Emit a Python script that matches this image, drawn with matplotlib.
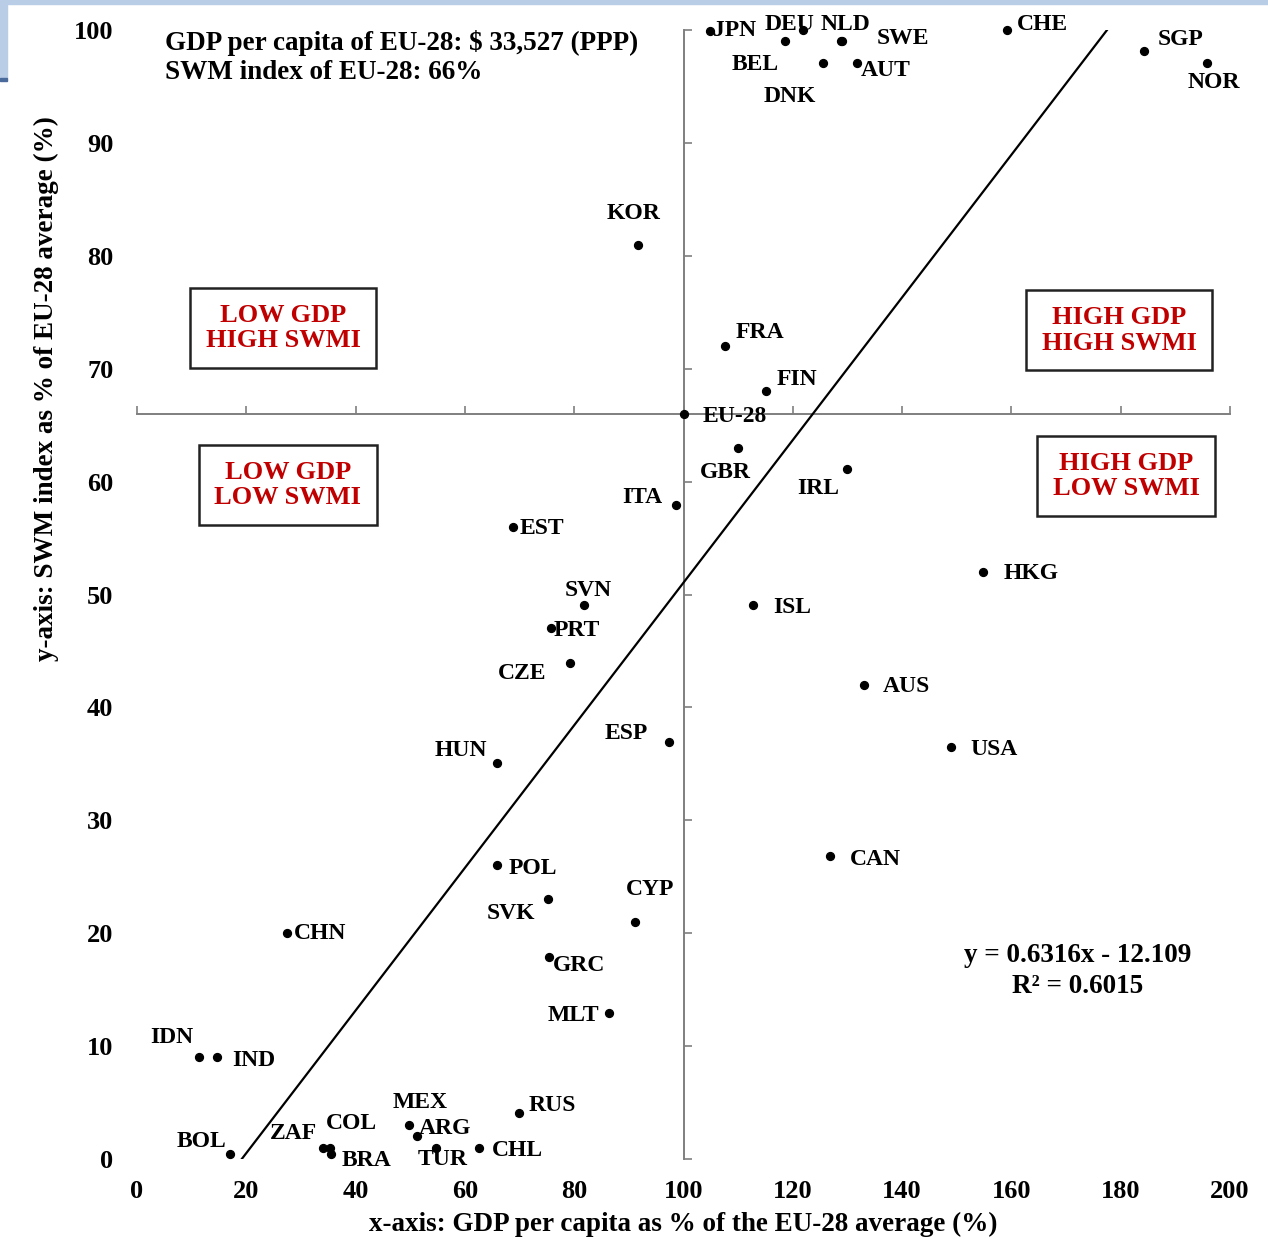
import matplotlib
matplotlib.use("Agg")
import matplotlib.pyplot as plt
from matplotlib.patches import Rectangle
import numpy as np

# ---------------- data ----------------
countries = ["JPN", "DEU", "NLD", "SWE", "BEL", "AUT", "DNK", "CHE", "SGP", "NOR",
             "KOR", "FRA", "FIN", "EU-28", "GBR", "IRL", "ITA", "EST", "SVN", "PRT",
             "CZE", "HUN", "ESP", "HKG", "ISL", "AUS", "USA", "CAN", "POL", "SVK",
             "CYP", "GRC", "MLT", "CHN", "IDN", "IND", "BOL", "ZAF", "COL", "BRA",
             "MEX", "ARG", "TUR", "CHL", "RUS"]
gdp_pct = [104.8, 121.9, 128.8, 129.0, 118.6, 131.7, 125.5, 159.2, 184.3, 195.8,
           91.7, 107.6, 115.1, 100.0, 110.0, 129.9, 98.6, 68.8, 81.8, 75.8,
           79.2, 65.9, 97.3, 154.8, 112.7, 133.0, 148.9, 126.8, 65.9, 75.2,
           91.1, 75.4, 86.4, 27.4, 11.3, 14.6, 17.0, 34.0, 35.3, 35.5,
           49.8, 51.2, 54.7, 62.6, 69.9]
swmi_pct = [99.9, 100.0, 99.0, 99.0, 99.0, 97.1, 97.1, 100.0, 98.1, 97.1,
            81.0, 72.0, 68.0, 66.0, 63.0, 61.1, 57.9, 56.0, 49.1, 47.0,
            43.9, 35.1, 36.9, 52.0, 49.1, 42.0, 36.5, 26.8, 26.0, 23.0,
            21.0, 17.9, 12.9, 20.0, 9.0, 9.0, 0.4, 1.0, 1.0, 0.4,
            3.0, 2.0, 1.0, 1.0, 4.1]
x_ticks = [0, 20, 40, 60, 80, 100, 120, 140, 160, 180, 200]
y_ticks = [0, 10, 20, 30, 40, 50, 60, 70, 80, 90, 100]
eu_gdp = 100
eu_swmi = 66
slope, intercept = 0.6316, -12.109

# label offsets (pixels) from each dot to its label centre
label_offsets = {
    "JPN": (25, 3), "DEU": (-14, 8), "NLD": (5, 19), "SWE": (61, 5),
    "BEL": (-30, -21), "AUT": (29, -6), "DNK": (-33, -32), "CHE": (35, 8),
    "SGP": (36, 14), "NOR": (7, -18), "KOR": (-5, 33), "FRA": (35, 16),
    "FIN": (31, 14), "EU-28": (51, -1), "GBR": (-13, -23), "IRL": (-29, -17),
    "ITA": (-34, 10), "EST": (29, 0), "SVN": (4, 16), "PRT": (26, 0),
    "CZE": (-48, -8), "HUN": (-36, 14), "ESP": (-43, 11), "HKG": (48, 0),
    "ISL": (39, -1), "AUS": (43, 0), "USA": (43, -1), "CAN": (45, -1),
    "POL": (36, -1), "SVK": (-37, -12), "CYP": (15, 34), "GRC": (30, -7),
    "MLT": (-36, 0), "CHN": (33, 2), "IDN": (-27, 22), "IND": (37, -1),
    "BOL": (-28, 15), "ZAF": (-29, 16), "COL": (22, 26), "BRA": (35, -4),
    "MEX": (11, 25), "ARG": (28, 10), "TUR": (7, -10), "CHL": (38, -1),
    "RUS": (33, 9),
}
LABEL_DY_FIX = -2  # visual centring correction for cap-only labels

# ---------------- figure ----------------
FONT = "Liberation Serif"
plt.rcParams["font.family"] = [FONT, "DejaVu Serif"]
plt.rcParams["font.weight"] = "bold"

W, H = 1268, 1243
fig = plt.figure(figsize=(W / 100, H / 100), dpi=100)
L, R, B, T = 137, 1230, 1159, 30
pos = [L / W, 1 - B / H, (R - L) / W, (B - T) / H]

# slide border decoration
fig.patches.append(Rectangle((0, 1 - 4 / H), 1, 4 / H, transform=fig.transFigure,
                             color="#b9cde6", zorder=0))
fig.patches.append(Rectangle((0, 1 - 78 / H), 7 / W, 78 / H, transform=fig.transFigure,
                             color="#b9cde6", zorder=0))
fig.patches.append(Rectangle((0, 1 - 81 / H), 7 / W, 3 / H, transform=fig.transFigure,
                             color="#4a6a9c", zorder=0))

# base axes: tick labels only
ax = fig.add_axes(pos)
ax.set_xlim(0, 200)
ax.set_ylim(0, 100)
for s in ax.spines.values():
    s.set_visible(False)
ax.set_xticks(x_ticks)
ax.set_yticks(y_ticks)
ax.set_xticklabels([str(t) for t in x_ticks])
ax.set_yticklabels([str(t) for t in y_ticks])
ax.tick_params(axis="both", length=0, labelsize=19)
ax.tick_params(axis="x", pad=15)
ax.tick_params(axis="y", pad=17)
for lab in ax.get_xticklabels() + ax.get_yticklabels():
    lab.set_fontweight("bold")
ax.set_xlabel("x-axis: GDP per capita as % of the EU-28 average (%)", fontsize=19.5,
              fontweight="bold")
ax.set_ylabel("y-axis: SWM index as % of EU-28 average (%)", fontsize=19.5,
              fontweight="bold")
ax.xaxis.set_label_coords(0.5, -0.047)
ax.yaxis.set_label_coords(-0.071, 0.682)

# overlay axes: crossing axis lines at the EU-28 point
ax2 = fig.add_axes(pos, sharex=ax, sharey=ax)
ax2.patch.set_alpha(0)
ax2.spines["left"].set_position(("data", eu_gdp))
ax2.spines["bottom"].set_position(("data", eu_swmi))
ax2.spines["top"].set_visible(False)
ax2.spines["right"].set_visible(False)
for k in ("left", "bottom"):
    ax2.spines[k].set_color("#7f7f7f")
    ax2.spines[k].set_linewidth(1.4)
ax2.tick_params(axis="both", direction="in", length=6, width=1.2, color="#7f7f7f",
                labelleft=False, labelbottom=False)

# trend line
ty = np.array([0, 100])
tx = (ty - intercept) / slope
ax2.plot(tx, ty, color="black", lw=1.6, zorder=3)

# points
ax2.scatter(gdp_pct, swmi_pct, s=32, color="black", zorder=4, clip_on=False)

for c, xv, yv in zip(countries, gdp_pct, swmi_pct):
    dx, dy = label_offsets[c]
    ax2.annotate(c, (xv, yv), xytext=(dx, dy + LABEL_DY_FIX), textcoords="offset pixels",
                 ha="center", va="center", fontsize=17, fontweight="bold",
                 annotation_clip=False, zorder=5)

# notes
ax2.text(0.0256, 0.9885, "GDP per capita of EU-28: $ 33,527 (PPP)", transform=ax2.transAxes,
         ha="left", va="center", fontsize=19.5, fontweight="bold")
ax2.text(0.0256, 0.962, "SWM index of EU-28: 66%", transform=ax2.transAxes,
         ha="left", va="center", fontsize=19.5, fontweight="bold")
ax2.text(0.861, 0.1805, "y = 0.6316x - 12.109", transform=ax2.transAxes,
         ha="center", va="center", fontsize=19.5, fontweight="bold")
ax2.text(0.861, 0.153, "R² = 0.6015", transform=ax2.transAxes,
         ha="center", va="center", fontsize=19.5, fontweight="bold")

# quadrant boxes
quad = [("LOW GDP\nHIGH SWMI", 0.1336, 0.736),
        ("HIGH GDP\nHIGH SWMI", 0.8984, 0.734),
        ("LOW GDP\nLOW SWMI", 0.138, 0.597),
        ("HIGH GDP\nLOW SWMI", 0.905, 0.605)]
for txt, fx, fy in quad:
    ax2.text(fx, fy, txt, transform=ax2.transAxes, ha="center", va="center",
             fontsize=19, fontweight="bold", color="#c00000", linespacing=1.15,
             bbox=dict(boxstyle="square,pad=0.6", fc="white", ec="#222222", lw=1.8))

fig.savefig("out.png", dpi=100)
